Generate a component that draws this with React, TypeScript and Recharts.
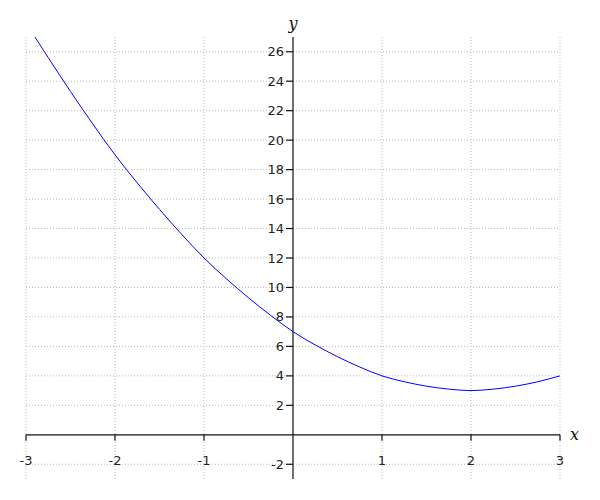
import React from 'react';
import { LineChart, Line, XAxis, YAxis, ReferenceLine, ReferenceDot } from 'recharts';

// values
const xValues = [-2.9, -2.75, -2.5, -2.25, -2, -1.75, -1.5, -1.25, -1, -0.75, -0.5, -0.25, 0, 0.25, 0.5, 0.75, 1, 1.25, 1.5, 1.75, 2, 2.25, 2.5, 2.75, 3];
const yValues = [27.0, 25.6, 23.3, 21.1, 19.0, 17.1, 15.3, 13.6, 12.0, 10.6, 9.3, 8.1, 7.0, 6.1, 5.3, 4.6, 4.0, 3.6, 3.3, 3.1, 3.0, 3.1, 3.3, 3.6, 4.0];

const xTicks = [-3, -2, -1, 1, 2, 3];
const yTicks = [-2, 2, 4, 6, 8, 10, 12, 14, 16, 18, 20, 22, 24, 26];
const xGrid = [-3, -2, -1, 1, 2, 3];

const tickFont = { fontFamily: 'DejaVu Sans', fontSize: 13, fill: '#222' };

export default function App() {
  const data = xValues.map((x, i) => ({ x, y: yValues[i] }));

  return (
    <div style={{ position: 'absolute', left: 0, top: 0, background: '#fff' }}>
      <LineChart width={600} height={500} data={data} margin={{ top: 37, right: 40, bottom: 21, left: 26 }}>
        <XAxis type="number" dataKey="x" domain={[-3, 3]} hide allowDataOverflow />
        <YAxis type="number" domain={[-3, 27]} hide allowDataOverflow />

        {/* dotted grid */}
        {xGrid.map(t => (
          <ReferenceLine key={'gx' + t} x={t} stroke="#bbb" strokeDasharray="1 2" />
        ))}
        {yTicks.map(t => (
          <ReferenceLine key={'gy' + t} y={t} stroke="#bbb" strokeDasharray="1 2" />
        ))}

        {/* axes through the origin */}
        <ReferenceLine y={0} stroke="#111" strokeWidth={1.2}
          label={{ value: 'x', position: 'right', offset: 10, fontFamily: 'DejaVu Serif', fontStyle: 'italic', fontSize: 16, fill: '#111' }} />
        <ReferenceLine x={0} stroke="#111" strokeWidth={1.2}
          label={{ value: 'y', position: 'top', offset: 8, fontFamily: 'DejaVu Serif', fontStyle: 'italic', fontSize: 16, fill: '#111' }} />

        {/* tick marks and labels */}
        {xTicks.map(t => (
          <ReferenceDot key={'tx' + t} x={t} y={0} r={1}
            shape={(p: any) => (
              <g>
                <line x1={p.cx} y1={p.cy} x2={p.cx} y2={p.cy + 6} stroke="#111" strokeWidth={1.2} />
                <text x={p.cx} y={p.cy + 26} textAnchor="middle" dominantBaseline="central" {...tickFont}>{t}</text>
              </g>
            )} />
        ))}
        {yTicks.map(t => (
          <ReferenceDot key={'ty' + t} x={0} y={t} r={1}
            shape={(p: any) => (
              <g>
                <line x1={p.cx - 7} y1={p.cy} x2={p.cx} y2={p.cy} stroke="#111" strokeWidth={1.2} />
                <text x={p.cx - 9} y={p.cy} textAnchor="end" dominantBaseline="central" {...tickFont}>{t}</text>
              </g>
            )} />
        ))}

        <Line type="monotone" dataKey="y" stroke="#0000ff" strokeWidth={1} dot={false} isAnimationActive={false} />
      </LineChart>
    </div>
  );
}
